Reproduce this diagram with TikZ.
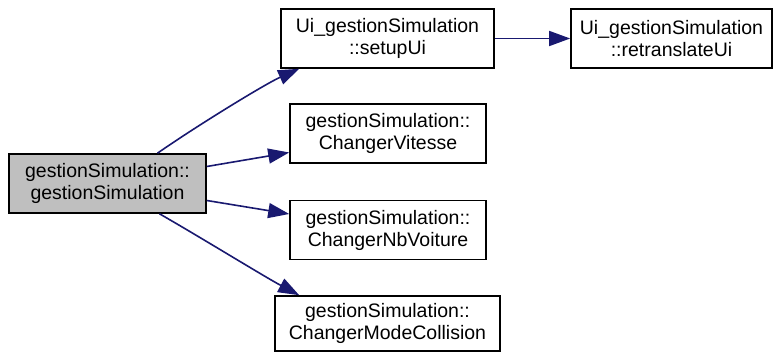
\documentclass[tikz,border=0pt]{standalone}
\usepackage{fontspec}
\setmainfont{Liberation Sans}
\usetikzlibrary{arrows.meta}
\definecolor{callblue}{RGB}{25,25,112}
\definecolor{rootgray}{RGB}{191,191,191}

\begin{document}
\begin{tikzpicture}[
    x=1pt, y=-1pt,
    fn/.style={rectangle, draw=black, line width=1.6pt, align=center, inner sep=0pt, minimum height=59pt, font=\fontsize{19.5}{22}\selectfont},
    root/.style={fn, fill=rootgray},
    call/.style={-{Triangle[length=21pt,width=15pt]}, line width=1.6pt, callblue}
]
\useasboundingbox (0,0) rectangle (774,352);

% ============ caller ============
\node[root, minimum width=197pt] (gs) at (107.5,183.5) {gestionSimulation::\\gestionSimulation};

% ============ callees ============
\node[fn, minimum width=213pt] (setup)  at (387.5,38.5)  {Ui\_gestionSimulation\\::setupUi};
\node[fn, minimum width=201pt] (retr)   at (671.5,38.5)  {Ui\_gestionSimulation\\::retranslateUi};
\node[fn, minimum width=196pt] (vit)    at (388,133.5)   {gestionSimulation::\\ChangerVitesse};
\node[fn, minimum width=196pt] (nbv)    at (388,230)     {gestionSimulation::\\ChangerNbVoiture};
\node[fn, minimum width=225pt, minimum height=55pt] (mode) at (387.5,323.5) {gestionSimulation::\\ChangerModeCollision};

% ============ calls ============
\draw[call] ([xshift=50pt]gs.north) .. controls (195,127) and (265,84) .. ([xshift=19pt]setup.south west);
\draw[call] ([yshift=17pt]gs.east) -- ([yshift=-19pt]vit.west);
\draw[call] ([yshift=-17pt]gs.east) -- ([yshift=16pt]nbv.west);
\draw[call] ([xshift=52pt]gs.south) .. controls (200,237) and (265,277) .. ([xshift=25pt]mode.north west);
\draw[call] (setup) -- (retr);

\end{tikzpicture}
\end{document}
